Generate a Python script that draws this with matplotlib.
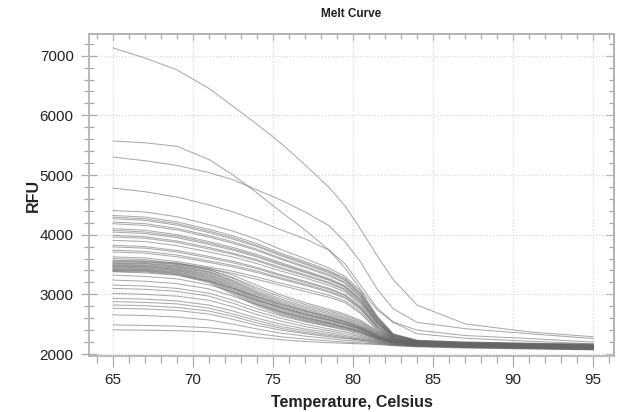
import matplotlib
matplotlib.use("Agg")
import matplotlib.pyplot as plt
from matplotlib.ticker import MultipleLocator

plt.rcParams['font.family'] = ['Liberation Sans', 'DejaVu Sans']

title = "Melt Curve"
x_label = "Temperature, Celsius"
y_label = "RFU"

temps = [65, 67, 69, 71, 72.5, 74, 75.5, 77, 78.5, 79.5, 80.5, 81.5, 82.5, 84, 87, 91, 95]

outlier_curves = [
    [7130, 6960, 6760, 6450, 6150, 5850, 5530, 5170, 4790, 4480, 4080, 3650, 3250, 2820, 2505, 2370, 2290],
    [5570, 5540, 5480, 5260, 5000, 4700, 4380, 4080, 3740, 3440, 3070, 2740, 2530, 2340, 2265, 2215, 2170],
    [5300, 5240, 5160, 5040, 4920, 4750, 4580, 4380, 4150, 3880, 3530, 3090, 2760, 2530, 2425, 2340, 2260],
    [4780, 4720, 4630, 4500, 4380, 4240, 4080, 3930, 3740, 3510, 3140, 2770, 2540, 2400, 2310, 2260, 2200],
]

upper_curves = [
    [4405, 4380, 4300, 4170, 4060, 3920, 3750, 3600, 3440, 3300, 3050, 2640, 2340, 2230, 2200, 2180, 2170],
    [4322, 4295, 4215, 4090, 3980, 3850, 3690, 3550, 3400, 3270, 3020, 2620, 2330, 2230, 2200, 2180, 2160],
    [4294, 4265, 4185, 4060, 3950, 3820, 3665, 3525, 3380, 3250, 3000, 2610, 2330, 2220, 2190, 2170, 2160],
    [4267, 4240, 4160, 4035, 3925, 3800, 3645, 3505, 3360, 3230, 2985, 2600, 2320, 2220, 2190, 2170, 2150],
    [4211, 4185, 4105, 3985, 3880, 3755, 3605, 3470, 3330, 3200, 2960, 2585, 2315, 2215, 2190, 2170, 2150],
    [4183, 4155, 4080, 3960, 3855, 3735, 3585, 3450, 3310, 3185, 2945, 2575, 2310, 2215, 2185, 2165, 2150],
    [4100, 4075, 4000, 3885, 3785, 3670, 3530, 3400, 3265, 3145, 2915, 2555, 2300, 2210, 2180, 2160, 2140],
    [4072, 4045, 3975, 3860, 3760, 3645, 3510, 3380, 3250, 3130, 2900, 2545, 2300, 2205, 2180, 2160, 2140],
    [4044, 4020, 3950, 3835, 3740, 3625, 3490, 3365, 3235, 3115, 2890, 2540, 2295, 2205, 2175, 2155, 2140],
    [3989, 3965, 3895, 3785, 3690, 3580, 3450, 3330, 3200, 3085, 2865, 2525, 2290, 2200, 2175, 2155, 2130],
    [3961, 3940, 3870, 3760, 3670, 3560, 3430, 3310, 3185, 3070, 2850, 2515, 2285, 2200, 2170, 2150, 2130],
    [3905, 3885, 3815, 3710, 3625, 3515, 3390, 3275, 3150, 3040, 2825, 2500, 2280, 2195, 2170, 2150, 2125],
    [3822, 3800, 3735, 3635, 3555, 3450, 3330, 3220, 3100, 2995, 2790, 2475, 2270, 2190, 2165, 2145, 2120],
    [3794, 3775, 3710, 3610, 3530, 3430, 3310, 3200, 3085, 2980, 2775, 2465, 2265, 2190, 2165, 2145, 2120],
    [3739, 3720, 3660, 3560, 3485, 3390, 3275, 3170, 3055, 2955, 2755, 2450, 2260, 2185, 2160, 2140, 2115],
    [3711, 3690, 3630, 3535, 3460, 3365, 3255, 3150, 3035, 2935, 2740, 2440, 2260, 2185, 2160, 2140, 2110],
    [3628, 3610, 3550, 3460, 3385, 3290, 3185, 3090, 2985, 2890, 2700, 2415, 2250, 2180, 2155, 2135, 2105],
    [3600, 3580, 3520, 3430, 3350, 3250, 3150, 3050, 2950, 2860, 2670, 2400, 2250, 2180, 2150, 2130, 2100],
]

middle_curves = [
    [3572, 3560, 3525, 3440, 3320, 3150, 2990, 2860, 2750, 2670, 2560, 2390, 2260, 2190, 2165, 2150, 2140],
    [3560, 3548, 3510, 3415, 3280, 3110, 2955, 2830, 2725, 2645, 2540, 2375, 2250, 2185, 2160, 2145, 2130],
    [3545, 3535, 3500, 3410, 3265, 3080, 2920, 2800, 2700, 2620, 2520, 2360, 2245, 2180, 2160, 2140, 2125],
    [3530, 3520, 3482, 3385, 3235, 3050, 2895, 2775, 2675, 2600, 2500, 2350, 2240, 2180, 2155, 2140, 2120],
    [3520, 3510, 3472, 3375, 3220, 3030, 2870, 2750, 2650, 2580, 2480, 2340, 2235, 2175, 2150, 2135, 2115],
    [3505, 3495, 3458, 3360, 3200, 3010, 2850, 2730, 2630, 2560, 2465, 2330, 2230, 2175, 2150, 2130, 2115],
    [3490, 3480, 3442, 3340, 3180, 2990, 2830, 2710, 2610, 2545, 2450, 2320, 2225, 2170, 2145, 2130, 2110],
    [3480, 3470, 3430, 3325, 3160, 2965, 2805, 2690, 2595, 2530, 2440, 2310, 2220, 2170, 2145, 2125, 2110],
    [3470, 3460, 3420, 3310, 3140, 2945, 2790, 2670, 2580, 2515, 2430, 2300, 2215, 2165, 2140, 2125, 2105],
    [3455, 3445, 3405, 3290, 3120, 2925, 2770, 2655, 2565, 2500, 2420, 2295, 2210, 2165, 2140, 2120, 2105],
    [3445, 3435, 3395, 3280, 3105, 2910, 2755, 2640, 2550, 2490, 2410, 2290, 2205, 2160, 2135, 2120, 2100],
    [3430, 3420, 3380, 3260, 3085, 2890, 2735, 2620, 2530, 2470, 2395, 2280, 2200, 2160, 2135, 2115, 2100],
    [3420, 3410, 3368, 3245, 3065, 2870, 2715, 2600, 2515, 2455, 2385, 2275, 2200, 2155, 2130, 2115, 2095],
    [3410, 3400, 3355, 3230, 3045, 2850, 2695, 2585, 2500, 2440, 2370, 2265, 2195, 2155, 2130, 2110, 2095],
    [3400, 3390, 3345, 3215, 3025, 2830, 2680, 2570, 2485, 2430, 2360, 2260, 2190, 2150, 2125, 2110, 2090],
    [3385, 3378, 3330, 3195, 3000, 2805, 2660, 2555, 2470, 2415, 2350, 2250, 2185, 2150, 2125, 2105, 2090],
]

lower_curves = [
    [3378, 3360, 3320, 3220, 3100, 2960, 2830, 2720, 2620, 2540, 2440, 2310, 2220, 2170, 2150, 2130, 2120],
    [3322, 3300, 3260, 3160, 3040, 2900, 2780, 2670, 2570, 2500, 2410, 2290, 2210, 2160, 2140, 2125, 2110],
    [3239, 3220, 3180, 3090, 2970, 2830, 2710, 2610, 2520, 2450, 2370, 2270, 2200, 2160, 2140, 2120, 2105],
    [3155, 3140, 3100, 3020, 2900, 2760, 2640, 2540, 2460, 2400, 2330, 2250, 2190, 2150, 2130, 2115, 2100],
    [3100, 3085, 3050, 2970, 2850, 2710, 2600, 2500, 2420, 2370, 2310, 2240, 2180, 2150, 2130, 2110, 2095],
    [3017, 3000, 2970, 2900, 2790, 2660, 2550, 2460, 2390, 2340, 2290, 2230, 2180, 2145, 2125, 2110, 2090],
    [2933, 2920, 2890, 2820, 2720, 2600, 2500, 2420, 2360, 2310, 2270, 2220, 2170, 2140, 2125, 2105, 2090],
    [2878, 2865, 2840, 2770, 2670, 2560, 2460, 2390, 2330, 2290, 2250, 2210, 2170, 2140, 2120, 2100, 2085],
    [2822, 2810, 2780, 2720, 2630, 2520, 2430, 2360, 2310, 2270, 2240, 2200, 2160, 2135, 2120, 2100, 2080],
    [2767, 2755, 2730, 2670, 2580, 2480, 2400, 2340, 2290, 2260, 2230, 2190, 2160, 2135, 2115, 2095, 2080],
    [2655, 2645, 2620, 2570, 2500, 2420, 2350, 2300, 2260, 2230, 2210, 2180, 2150, 2130, 2110, 2095, 2075],
    [2489, 2480, 2465, 2440, 2400, 2340, 2290, 2250, 2220, 2200, 2185, 2170, 2150, 2130, 2110, 2090, 2075],
    [2405, 2400, 2390, 2370, 2330, 2280, 2240, 2210, 2190, 2180, 2170, 2160, 2140, 2120, 2100, 2085, 2070],
]

x_ticks = [65, 70, 75, 80, 85, 90, 95]
y_ticks = [2000, 3000, 4000, 5000, 6000, 7000]

fig = plt.figure(figsize=(6.2, 4.12), dpi=100)
ax = fig.add_axes([89/620, 1 - 356/412, (614-89)/620, (356-34)/412])

line_color = '#666666'
for group in (lower_curves, middle_curves, upper_curves, outlier_curves):
    for curve in group:
        ax.plot(temps, curve, color=line_color, alpha=0.55, linewidth=0.75)

xlim = (63.5, 96.3)
ylim = (1967, 7363)
ax.set_xlim(*xlim)
ax.set_ylim(*ylim)
ax.set_xticks(x_ticks)
ax.set_yticks(y_ticks)
ax.xaxis.set_minor_locator(MultipleLocator(1))
ax.yaxis.set_minor_locator(MultipleLocator(200))

spine_color = '#b4b4b4'
tick_color = '#a8a8a8'
for s in ax.spines.values():
    s.set_color(spine_color)
    s.set_linewidth(1.3)

ax.tick_params(axis='both', which='both', color=tick_color, width=0.9,
               top=False, right=False, labelsize=11, labelcolor='#222222')
ax.tick_params(axis='x', which='major', direction='out', length=8, pad=4)
ax.tick_params(axis='x', which='minor', direction='out', length=5)
ax.tick_params(axis='y', which='major', direction='inout', length=11, pad=5.5)
ax.tick_params(axis='y', which='minor', direction='inout', length=7)

# top and right axes: inward ticks, no labels
secx = ax.secondary_xaxis('top')
secx.set_xticks(x_ticks)
secx.xaxis.set_minor_locator(MultipleLocator(1))
secx.tick_params(which='both', direction='in', color=tick_color, width=0.9, labeltop=False)
secx.tick_params(which='major', length=5)
secx.tick_params(which='minor', length=3.5)
secx.spines['top'].set_color(spine_color)
secx.spines['top'].set_linewidth(1.3)

secy = ax.secondary_yaxis('right')
secy.set_yticks(y_ticks)
secy.yaxis.set_minor_locator(MultipleLocator(200))
secy.tick_params(which='both', direction='in', color=tick_color, width=0.9, labelright=False)
secy.tick_params(which='major', length=6)
secy.tick_params(which='minor', length=3.5)
secy.spines['right'].set_color(spine_color)
secy.spines['right'].set_linewidth(1.3)

ax.grid(True, which='major', color='#d4d4d4', linestyle=':', linewidth=0.8)
ax.set_axisbelow(True)

ax.set_title(title, fontsize=8.5, fontweight='bold', pad=12, color='#222222')
ax.set_xlabel(x_label, fontsize=11.5, fontweight='bold', labelpad=6, color='#222222')
ax.set_ylabel(y_label, fontsize=11.5, fontweight='bold', labelpad=-1, color='#222222')

fig.savefig("out.png", dpi=100)
